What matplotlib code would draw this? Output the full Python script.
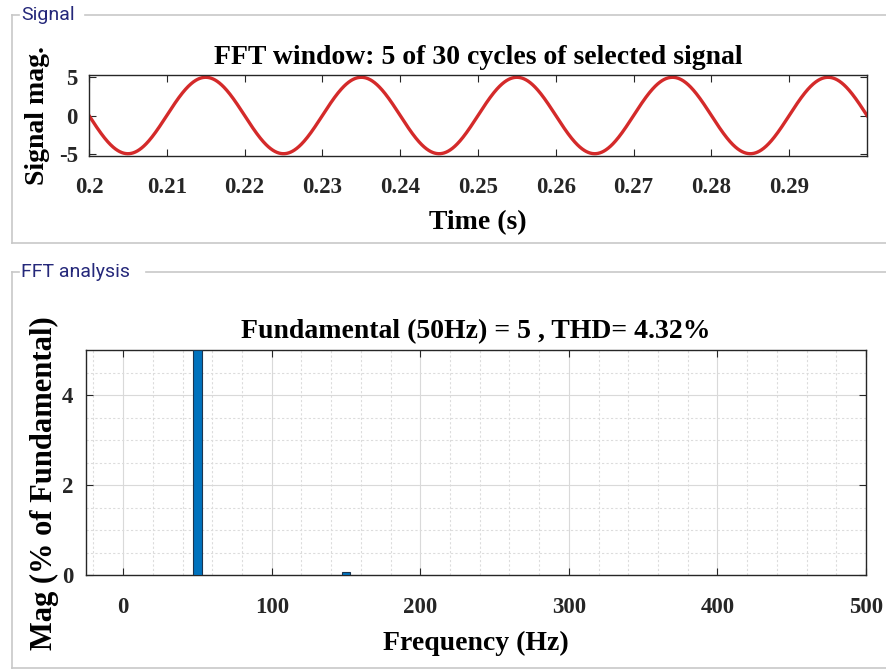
import numpy as np
import matplotlib
matplotlib.use('Agg')
import matplotlib.pyplot as plt
from matplotlib.ticker import MultipleLocator

# signal shown in the FFT window (5 cycles of a 50 Hz sine)
amplitude = 5.0
fund_freq = 50.0
t_start = 0.2
t_end = 0.3
time_ticks = [0.2, 0.21, 0.22, 0.23, 0.24, 0.25, 0.26, 0.27, 0.28, 0.29]
sig_ticks = [-5, 0, 5]

# spectrum bars
freqs = [50, 150]
mags = [5.0, 0.07]
freq_ticks = [0, 100, 200, 300, 400, 500]
mag_ticks = [0, 2, 4]

W, H = 886, 671
fig = plt.figure(figsize=(W / 100, H / 100), dpi=100)
fig.patch.set_facecolor('white')

plt.rcParams['font.family'] = 'Liberation Serif'
plt.rcParams['font.weight'] = 'bold'
plt.rcParams['axes.unicode_minus'] = False

# panel frames
frame_col = '#c8c8c8'
for (x0, y0, x1, y1, name, gap_end) in [(12, 15, 890, 243, 'Signal', 85),
                                        (12, 272, 890, 668, 'FFT analysis', 146)]:
    fig.add_artist(plt.Line2D([x0 / W, x0 / W], [1 - y0 / H, 1 - y1 / H], color=frame_col, lw=1.2))
    fig.add_artist(plt.Line2D([x0 / W, x1 / W], [1 - y1 / H, 1 - y1 / H], color=frame_col, lw=1.2))
    fig.add_artist(plt.Line2D([x0 / W, 19 / W], [1 - y0 / H, 1 - y0 / H], color=frame_col, lw=1.2))
    fig.add_artist(plt.Line2D([gap_end / W, x1 / W], [1 - y0 / H, 1 - y0 / H], color=frame_col, lw=1.2))
    fig.text(21 / W, 1 - y0 / H, name, family='Roboto', weight='normal',
             fontsize=14, color='#25287a', va='center', ha='left')

spine_col = '#262626'

def style(ax):
    for s in ax.spines.values():
        s.set_color(spine_col)
        s.set_linewidth(1.0)
    ax.tick_params(direction='in', top=True, right=True, length=5,
                   labelsize=16.5, colors='#262626')
    for lab in ax.get_xticklabels() + ax.get_yticklabels():
        lab.set_fontweight('bold')

# top: signal
ax1 = fig.add_axes([89 / W, 1 - 156 / H, 778 / W, 81 / H])
t = np.linspace(t_start, t_end, 2000)
sig = -amplitude * np.sin(2 * np.pi * fund_freq * (t - t_start))
ax1.plot(t, sig, color='#d42a2a', lw=2.4)
ax1.set_xlim(t_start, t_end)
ax1.set_ylim(-5.3, 5.3)
ax1.set_xticks(time_ticks)
ax1.set_xticklabels([f'{v:g}' for v in time_ticks])
ax1.set_yticks(sig_ticks)
style(ax1)
ax1.tick_params(axis='x', pad=15)
ax1.tick_params(axis='y', pad=8)
ax1.set_title('FFT window: 5 of 30 cycles of selected signal', fontsize=20,
              fontweight='bold', pad=8)
ax1.set_xlabel('Time (s)', fontsize=20, fontweight='bold', labelpad=9)
ax1.set_ylabel('Signal mag.', fontsize=20, fontweight='bold', labelpad=6)

# bottom: spectrum
ax2 = fig.add_axes([86 / W, 1 - 575 / H, 780 / W, 225 / H])
ax2.bar(freqs, mags, width=5.5, color='#0072bd', edgecolor='#1a3550', lw=0.8, zorder=3)
ax2.set_xlim(-25, 500)
ax2.set_ylim(0, 5)
ax2.set_xticks(freq_ticks)
ax2.set_yticks(mag_ticks)
ax2.xaxis.set_minor_locator(MultipleLocator(20))
ax2.yaxis.set_minor_locator(MultipleLocator(0.5))
ax2.grid(which='major', color='#d9d9d9', lw=0.8, zorder=0)
ax2.grid(which='minor', color='#dcdcdc', lw=0.8, ls=(0, (2, 2)), zorder=0)
ax2.tick_params(which='minor', length=0)
style(ax2)
ax2.tick_params(axis='x', pad=16)
ax2.tick_params(axis='y', pad=9)
ax2.set_title('Fundamental (50Hz) = 5 , THD= 4.32%', fontsize=20,
              fontweight='bold', pad=8.5)
ax2.set_xlabel('Frequency (Hz)', fontsize=20, fontweight='bold', labelpad=9)
ax2.set_ylabel('Mag (% of Fundamental)', fontsize=22, fontweight='bold')
ax2.yaxis.set_label_coords(-0.034, 0.41)

fig.savefig('out.png', dpi=100)
